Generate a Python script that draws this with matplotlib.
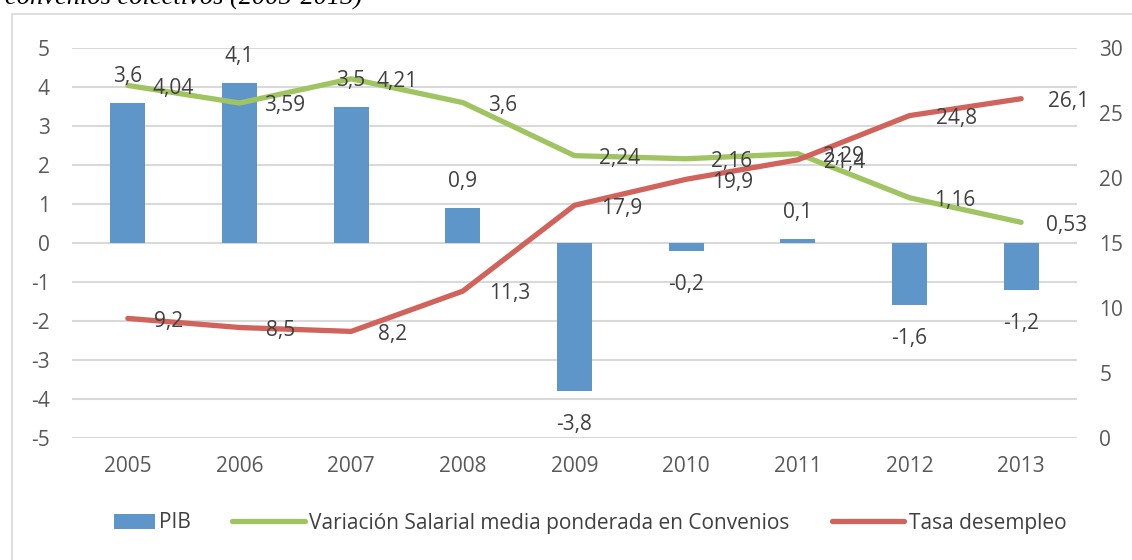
import matplotlib
matplotlib.use("Agg")
import matplotlib.pyplot as plt
import numpy as np
from matplotlib.patches import Rectangle
from matplotlib.legend_handler import HandlerPatch
from matplotlib.container import BarContainer

years = ["2005", "2006", "2007", "2008", "2009", "2010", "2011", "2012", "2013"]
pib = [3.6, 4.1, 3.5, 0.9, -3.8, -0.2, 0.1, -1.6, -1.2]
salarial = [4.04, 3.59, 4.21, 3.6, 2.24, 2.16, 2.29, 1.16, 0.53]
desempleo = [9.2, 8.5, 8.2, 11.3, 17.9, 19.9, 21.4, 24.8, 26.1]
left_ticks = [-5, -4, -3, -2, -1, 0, 1, 2, 3, 4, 5]
right_ticks = [0, 5, 10, 15, 20, 25, 30]

BLUE = "#5F96CA"
GREEN = "#A0C462"
RED = "#D0645C"
TXT = "#404040"
TICK = "#595959"
GRID = "#D9D9D9"
FONT = "Open Sans"
FS = 15

def fmt(v):
    return ("%g" % v).replace(".", ",")

W, H = 1132, 560
fig = plt.figure(figsize=(W / 100, H / 100), dpi=100)
plt.rcParams["font.family"] = [FONT, "DejaVu Sans"]

# frame
fig.patches.append(Rectangle((12 / W, -0.01), 1.02, 1 - 14 / H + 0.01,
                             transform=fig.transFigure, fill=False,
                             edgecolor=GRID, lw=1.2, zorder=0))
# cut-off title
fig.text(5 / W, 1 - 5 / H, "convenios colectivos (2005-2013)",
         family="Liberation Serif", style="italic", fontsize=19,
         color="black", ha="left", va="baseline")

ax = fig.add_axes([72 / W, 1 - 438 / H, (1077 - 72) / W, (438 - 48) / H])
ax2 = ax.twinx()
x = np.arange(len(years))

ax.set_xlim(-0.5, len(years) - 0.5)
ax.set_ylim(-5, 5)
ax2.set_ylim(0, 30)
ax.set_yticks(left_ticks)
ax.set_yticklabels([str(t) for t in left_ticks])
ax2.set_yticks(right_ticks)
ax2.set_yticklabels([str(t) for t in right_ticks])
ax.set_xticks(x)
ax.set_xticklabels(years)
ax.yaxis.grid(True, color=GRID, lw=1.5)
ax.set_axisbelow(True)
for a in (ax, ax2):
    for s in a.spines.values():
        s.set_visible(False)
    a.tick_params(length=0, labelsize=FS, labelcolor=TICK)
ax.tick_params(axis="y", pad=16)
ax2.tick_params(axis="y", pad=16)
ax.tick_params(axis="x", pad=13)

bars = ax.bar(x, pib, width=0.315, color=BLUE, zorder=2, label="PIB")
l1, = ax.plot(x, salarial, color=GREEN, lw=3.8, solid_capstyle="round",
              zorder=3, label="Variación Salarial media ponderada en Convenios")
l2, = ax2.plot(x, desempleo, color=RED, lw=3.8, solid_capstyle="round",
               zorder=3, label="Tasa desempleo")

# data labels (all drawn on the top axes so they sit above every line)
for xi, v in zip(x, pib):
    dy = 19 if v >= 0 else -24
    ax2.annotate(fmt(v), (xi, v), xycoords=ax.transData, xytext=(0, dy),
                 textcoords="offset points", ha="center", va="center",
                 fontsize=FS, color=TXT, zorder=5)
for xi, v in zip(x, salarial):
    ax2.annotate(fmt(v), (xi, v), xycoords=ax.transData, xytext=(18, -2),
                 textcoords="offset points", ha="left", va="center",
                 fontsize=FS, color=TXT, zorder=5)
for xi, v in zip(x, desempleo):
    ax2.annotate(fmt(v), (xi, v), xytext=(19, -2), textcoords="offset points",
                 ha="left", va="center", fontsize=FS, color=TXT, zorder=5)

class ShortPatch(HandlerPatch):
    def create_artists(self, legend, orig_handle, xdescent, ydescent, width,
                       height, fontsize, trans):
        w = width * 0.56
        fc = orig_handle.patches[0].get_facecolor()
        p = Rectangle((width - w - xdescent, -ydescent), w, height,
                      facecolor=fc, edgecolor="none", transform=trans)
        return [p]

leg = fig.legend(handles=[bars, l1, l2], loc="center", ncol=3,
                 bbox_to_anchor=(574 / W, 1 - 523 / H), frameon=False,
                 fontsize=FS, handlelength=3.5, handletextpad=0.2,
                 columnspacing=2.0, labelcolor=TXT,
                 handler_map={BarContainer: ShortPatch()})

fig.savefig("out.png", dpi=100)
